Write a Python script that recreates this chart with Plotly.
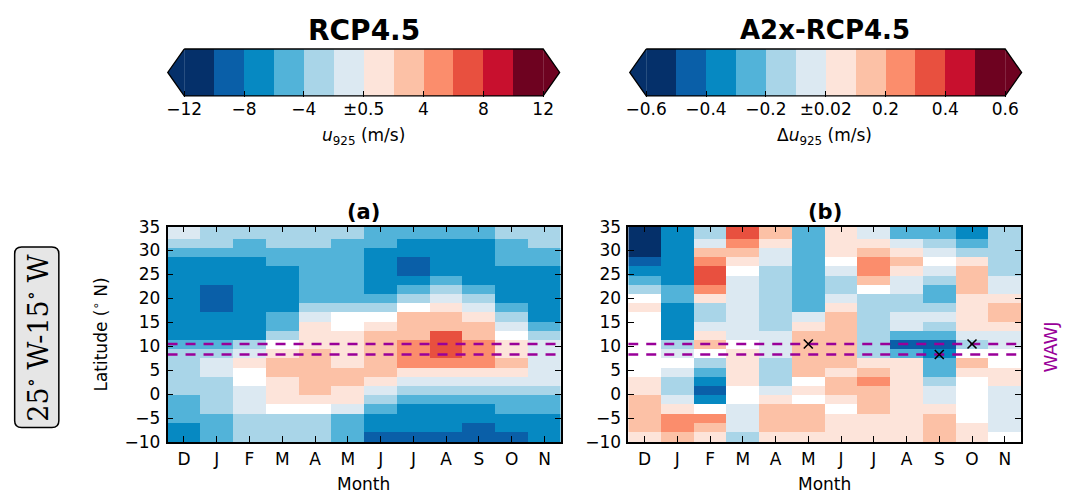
import plotly.graph_objects as go

# ---------------- data ----------------
months = ["D", "J", "F", "M", "A", "M", "J", "J", "A", "S", "O", "N"]

# latitude of grid-cell centres, north -> south (deg N)
lats = [35.31, 33.39, 31.47, 29.55, 27.64, 25.72, 23.80, 21.88, 19.96, 18.05,
        16.13, 14.21, 12.29, 10.38, 8.46, 6.54, 4.62, 2.70, 0.78, -1.13,
        -3.05, -4.97, -6.88, -8.80, -10.72]

# (a) RCP4.5 u925 (m/s); rows follow lats, columns follow months
u925_rcp45 = [
    [-1.2, -3, -3, -3, -3, -3, -5, -5, -5, -5, -3, -3],
    [-1.2, -3, -3, -3, -3, -3, -5, -5, -5, -5, -3, -3],
    [-3, -3, -5, -3, -3, -5, -5, -7, -7, -7, -5, -3],
    [-5, -5, -5, -5, -5, -5, -7, -7, -7, -7, -5, -5],
    [-7, -7, -7, -5, -5, -5, -7, -9, -7, -7, -5, -5],
    [-7, -7, -7, -7, -5, -5, -7, -9, -7, -7, -7, -7],
    [-7, -7, -7, -7, -5, -5, -7, -7, -5, -7, -7, -7],
    [-7, -9, -7, -7, -5, -5, -7, -5, -3, -5, -7, -7],
    [-7, -9, -7, -7, -5, -5, -5, -3, -1.2, -3, -7, -7],
    [-7, -9, -7, -7, -3, -3, -3, 0, 1.2, -1.2, -5, -7],
    [-7, -7, -7, -5, -1.2, 0, 0, 3, 3, 1.2, -3, -7],
    [-7, -7, -7, -5, 1.2, 0, 1.2, 3, 3, 3, -1.2, -5],
    [-7, -7, -7, -3, 1.2, 1.2, 3, 3, 7, 3, 0, -3],
    [-5, -5, -3, 0, 1.2, 1.2, 3, 5, 7, 5, 1.2, -1.2],
    [-3, -3, -1.2, 1.2, 3, 1.2, 3, 5, 7, 5, 1.2, -1.2],
    [-3, -1.2, 1.2, 3, 3, 1.2, 3, 5, 5, 5, 3, -1.2],
    [-3, -1.2, 0, 3, 3, 3, 3, 1.2, 1.2, 1.2, 1.2, -1.2],
    [-3, -3, 0, 1.2, 3, 3, 1.2, -1.2, -1.2, -1.2, -1.2, -1.2],
    [-3, -3, -1.2, 1.2, 3, 1.2, -1.2, -3, -3, -3, -3, -3],
    [-5, -3, -1.2, 1.2, 1.2, 1.2, -3, -5, -5, -5, -5, -5],
    [-5, -3, -1.2, 0, 0, -1.2, -5, -7, -7, -7, -5, -5],
    [-5, -5, -3, -3, -3, -5, -7, -7, -7, -7, -7, -7],
    [-7, -5, -3, -3, -3, -5, -7, -7, -7, -9, -7, -7],
    [-7, -5, -3, -3, -3, -5, -9, -9, -9, -9, -9, -7],
    [-7, -5, -3, -3, -3, -5, -9, -9, -9, -9, -9, -7],
]

# (b) A2x - RCP4.5 difference in u925 (m/s)
du925_a2x = [
    [-0.55, -0.35, -0.15, 0.35, 0.15, -0.25, 0.06, -0.06, -0.25, -0.25, -0.35, -0.15],
    [-0.55, -0.35, -0.15, 0.35, 0.15, -0.25, 0.06, -0.06, -0.25, -0.25, -0.35, -0.15],
    [-0.55, -0.35, -0.06, 0.25, 0.06, -0.25, 0.06, 0.06, -0.06, -0.15, -0.25, -0.15],
    [-0.55, -0.35, 0.15, 0.15, -0.06, -0.25, 0.06, 0.15, 0.06, -0.06, -0.15, -0.15],
    [-0.45, -0.35, 0.25, 0.06, -0.06, -0.25, 0, 0.25, 0.15, 0, 0.06, -0.15],
    [-0.35, -0.35, 0.35, 0, -0.15, -0.25, -0.06, 0.25, 0.06, -0.06, 0.15, -0.15],
    [-0.25, -0.35, 0.35, -0.06, -0.15, -0.25, -0.15, 0.15, -0.06, -0.15, 0.15, -0.06],
    [-0.15, -0.25, 0.25, -0.06, -0.15, -0.25, -0.15, 0, -0.06, -0.25, 0.15, -0.06],
    [0, -0.25, 0.06, -0.06, -0.15, -0.25, -0.06, -0.15, -0.15, -0.25, 0.06, 0.06],
    [0.06, -0.35, -0.15, -0.06, -0.15, -0.25, 0.06, -0.15, -0.15, -0.15, 0.06, 0.15],
    [0, -0.35, -0.15, -0.06, -0.15, -0.06, 0.15, -0.15, -0.06, -0.06, 0.06, 0.15],
    [0, -0.35, -0.06, -0.06, -0.15, 0.06, 0.15, -0.15, -0.06, -0.15, 0.06, 0.06],
    [0, -0.35, 0.06, -0.06, -0.06, 0.15, 0.15, -0.15, -0.25, -0.25, -0.06, -0.06],
    [0, -0.15, 0.15, 0, -0.06, 0.15, 0.15, -0.15, -0.45, -0.45, -0.15, -0.06],
    [0, -0.06, 0, 0.06, -0.06, 0.15, 0.15, -0.15, -0.25, -0.35, 0, 0],
    [0, 0, -0.15, 0.06, -0.15, 0.15, 0.15, 0.06, 0.06, -0.25, 0.15, 0],
    [0, -0.06, -0.25, 0.06, -0.15, 0.15, 0.06, 0.15, 0.06, -0.25, 0.06, 0.06],
    [0.06, -0.15, -0.35, 0.06, -0.15, 0, 0.15, 0.25, 0.06, -0.15, 0, 0.06],
    [0.06, -0.15, -0.45, 0, -0.06, 0.06, 0.15, 0.15, 0.06, -0.06, 0, -0.06],
    [0.15, -0.06, -0.35, 0, 0.06, 0, 0.06, 0.15, 0.06, -0.06, 0, -0.06],
    [0.15, 0.06, 0, -0.06, 0.15, 0.15, 0, 0.15, 0.06, 0.06, 0, -0.06],
    [0.15, 0.25, 0.25, -0.06, 0.15, 0.15, 0.06, 0.06, 0.06, 0.15, 0, -0.06],
    [0.15, 0.25, 0.15, -0.06, 0.15, 0.15, 0.06, 0.06, 0.06, 0.15, 0.06, -0.06],
    [0.06, 0.15, 0.06, -0.15, 0.06, 0.06, 0.06, 0.06, 0.06, 0.15, 0.06, 0],
    [0.06, 0.15, 0.06, -0.15, 0.06, 0.06, 0.06, 0.06, 0.06, 0.15, 0.06, 0],
]

# contour levels (white band between the two central levels)
levels_a = [-12, -10, -8, -6, -4, -2, -0.5, 0.5, 2, 4, 6, 8, 10, 12]
levels_b = [-0.6, -0.5, -0.4, -0.3, -0.2, -0.1, -0.02, 0.02, 0.1, 0.2, 0.3, 0.4, 0.5, 0.6]
cbar_ticktext_a = ["\u221212", "\u22128", "\u22124", "\u00b10.5", "4", "8", "12"]
cbar_ticktext_b = ["\u22120.6", "\u22120.4", "\u22120.2", "\u00b10.02", "0.2", "0.4", "0.6"]
# representative value of each coloured band of the colour bars
cbar_vals_a = [-11, -9, -7, -5, -3, -1.2, 1.2, 3, 5, 7, 9, 11]
cbar_vals_b = [-0.55, -0.45, -0.35, -0.25, -0.15, -0.06, 0.06, 0.15, 0.25, 0.35, 0.45, 0.55]

# WAWJ band latitudes and significant points in (b)
wawj_lats = [10.5, 8.3]
sig_month_idx = [5, 9, 10]
sig_lats = [10.5, 8.3, 10.5]

lat_ticks = [-10, -5, 0, 5, 10, 15, 20, 25, 30, 35]

# ---------------- style ----------------
band_colors = ["#05306a", "#0a5fa8", "#0689c2", "#52b3d9", "#a9d5e8", "#dce9f2",
               "#ffffff",
               "#fde4da", "#fcc1a6", "#fb8d6c", "#e8503f", "#c8102e", "#6e0220"]
cbar_colors = band_colors[:6] + band_colors[7:]
FONT = "DejaVu Sans"
W, H = 1065, 498
H_EFF = 490   # measured vertical extent of the paper coordinates in the browser
PURPLE = "#990099"


def fx(p):
    return p / W


def fy(p):
    return 1 - p / H_EFF


def step_scale(bounds, colors):
    lo, hi = bounds[0], bounds[-1]
    sc = []
    for i, c in enumerate(colors):
        sc.append([(bounds[i] - lo) / (hi - lo), c])
        sc.append([(bounds[i + 1] - lo) / (hi - lo), c])
    sc[-1][0] = 1.0
    return sc


scale_a = step_scale(levels_a, band_colors)
scale_b = step_scale(levels_b, band_colors)

fig = go.Figure()

x_idx = list(range(len(months)))

# main heatmaps
for data, scale, levels, xa, ya in [(u925_rcp45, scale_a, levels_a, "x", "y"),
                                    (du925_a2x, scale_b, levels_b, "x2", "y2")]:
    fig.add_trace(go.Heatmap(
        x=x_idx, y=lats[::-1], z=data[::-1], colorscale=scale,
        zmin=levels[0], zmax=levels[-1], showscale=False, hoverinfo="skip",
        xaxis=xa, yaxis=ya))
    for la in wawj_lats:
        fig.add_trace(go.Scatter(
            x=[x_idx[0] - 0.5, x_idx[-1] + 0.5], y=[la, la], mode="lines",
            line=dict(color=PURPLE, width=2.6, dash="10px,8px"),
            hoverinfo="skip", showlegend=False, xaxis=xa, yaxis=ya))

fig.add_trace(go.Scatter(
    x=sig_month_idx, y=sig_lats, mode="markers",
    marker=dict(symbol="x-thin", size=9, line=dict(width=1.6, color="black")),
    hoverinfo="skip", showlegend=False, xaxis="x2", yaxis="y2"))

# colour bars (heatmap strips with triangular extensions)
nb = len(cbar_vals_a)
tip = 0.55
for vals, scale, levels, xa, ya in [(cbar_vals_a, scale_a, levels_a, "x3", "y3"),
                                    (cbar_vals_b, scale_b, levels_b, "x4", "y4")]:
    fig.add_trace(go.Heatmap(
        x=[i + 0.5 for i in range(nb)], y=[0.5], z=[vals], colorscale=scale,
        zmin=levels[0], zmax=levels[-1], showscale=False, hoverinfo="skip",
        xaxis=xa, yaxis=ya))
    fig.add_trace(go.Scatter(
        x=[0, -tip, 0, 0], y=[0, 0.5, 1, 0], mode="lines", fill="toself",
        fillcolor=cbar_colors[0], line=dict(width=0), hoverinfo="skip",
        showlegend=False, xaxis=xa, yaxis=ya))
    fig.add_trace(go.Scatter(
        x=[nb, nb + tip, nb, nb], y=[0, 0.5, 1, 0], mode="lines", fill="toself",
        fillcolor=cbar_colors[-1], line=dict(width=0), hoverinfo="skip",
        showlegend=False, xaxis=xa, yaxis=ya))
    fig.add_trace(go.Scatter(
        x=[0, nb, nb + tip, nb, 0, -tip, 0], y=[1, 1, 0.5, 0, 0, 0.5, 1],
        mode="lines", line=dict(color="black", width=1.3), hoverinfo="skip",
        showlegend=False, xaxis=xa, yaxis=ya))

# ---------------- axes ----------------
tickfont = dict(family=FONT, size=17, color="black")
lat_text = [str(t).replace("-", "\u2212") for t in lat_ticks]

main_x = dict(range=[-0.5, len(months) - 0.5], tickmode="array", tickvals=x_idx,
              ticktext=months, ticks="inside", ticklen=6, tickwidth=1.2,
              tickcolor="black", showline=True, linecolor="black", linewidth=1.5,
              mirror="ticks", showgrid=False, zeroline=False, tickfont=tickfont,
              ticklabelstandoff=1)
main_y = dict(range=[-10, 35], tickmode="array", tickvals=lat_ticks,
              ticktext=lat_text, ticks="inside", ticklen=6, tickwidth=1.2,
              tickcolor="black", showline=True, linecolor="black", linewidth=1.5,
              mirror="ticks", showgrid=False, zeroline=False, tickfont=tickfont,
              ticklabelstandoff=2)

ydom = [fy(443), fy(222)]
pad = 0.05
cb_ypad = 0.03
cb_y_range = [-cb_ypad, 1 + cb_ypad]
cb_ydom = [fy(88 + cb_ypad * 48), fy(40 - cb_ypad * 48)]


def cb_x(left_px, right_px):
    unit = (right_px - left_px) / nb
    return [fx(left_px - (tip + pad) * unit), fx(right_px + (tip + pad) * unit)]


cb_axis_x = dict(range=[-tip - pad, nb + tip + pad], tickmode="array",
                 tickvals=[0, 2, 4, 6, 8, 10, 12], ticks="inside", ticklen=6,
                 tickwidth=1.2, tickcolor="black", showline=False, showgrid=False,
                 zeroline=False, tickfont=tickfont, ticklabelstandoff=0)
cb_axis_y = dict(range=cb_y_range, visible=False, showgrid=False, zeroline=False)

fig.update_layout(
    width=W, height=H, autosize=False, margin=dict(l=0, r=0, t=0, b=0, pad=0),
    paper_bgcolor="white", plot_bgcolor="white", showlegend=False,
    font=dict(family=FONT, size=17, color="black"),
    xaxis=dict(main_x, domain=[fx(165), fx(559.5)], anchor="y"),
    yaxis=dict(main_y, domain=ydom, anchor="x"),
    xaxis2=dict(main_x, domain=[fx(627), fx(1021)], anchor="y2"),
    yaxis2=dict(main_y, domain=ydom, anchor="x2"),
    xaxis3=dict(cb_axis_x, domain=cb_x(181.7, 541.7), anchor="y3",
                ticktext=cbar_ticktext_a),
    yaxis3=dict(cb_axis_y, domain=cb_ydom, anchor="x3"),
    xaxis4=dict(cb_axis_x, domain=cb_x(645, 1005), anchor="y4",
                ticktext=cbar_ticktext_b),
    yaxis4=dict(cb_axis_y, domain=cb_ydom, anchor="x4"),
)

# ---------------- text ----------------
def ann(text, xp, yp, size=17, bold=False, angle=0, color="black", family=FONT):
    fig.add_annotation(
        text=f"<b>{text}</b>" if bold else text, x=fx(xp), y=fy(yp),
        xref="paper", yref="paper", showarrow=False, textangle=angle,
        xanchor="center", yanchor="middle",
        font=dict(family=family, size=size, color=color))


ann("RCP4.5", 362, 21, size=28, bold=True)
ann("A2x-RCP4.5", 824, 21, size=26, bold=True)
ann("<i>u</i><sub>925</sub> (m/s)", 362, 130)
ann("\u0394<i>u</i><sub>925</sub> (m/s)", 824, 130)
ann("(a)", 362, 207, size=21, bold=True)
ann("(b)", 824, 207, size=21, bold=True)
ann("Month", 362, 486)
ann("Month", 824, 486)
ann("Latitude (<sup>\u2218</sup> N)", 97, 333, angle=-90)
ann("WAWJ", 1050, 346, size=18, angle=-90, color=PURPLE)

# rounded box with longitude label
x0, x1, y0, y1 = fx(11.7), fx(56), fy(428), fy(243)
rx, ry = fx(7), 7 / H_EFF
path = (f"M {x0 + rx},{y0} L {x1 - rx},{y0} Q {x1},{y0} {x1},{y0 + ry} "
        f"L {x1},{y1 - ry} Q {x1},{y1} {x1 - rx},{y1} L {x0 + rx},{y1} "
        f"Q {x0},{y1} {x0},{y1 - ry} L {x0},{y0 + ry} Q {x0},{y0} {x0 + rx},{y0} Z")
fig.add_shape(type="path", path=path, xref="paper", yref="paper",
              fillcolor="#e6e6e6", line=dict(color="black", width=1.5), layer="above")
ann("25<sup>\u2218</sup> W-15<sup>\u2218</sup> W", 34, 336, size=27, angle=-90,
    family="DejaVu Serif")

fig.write_html("out.html", config={"displayModeBar": False, "responsive": False},
               post_script="document.body.style.margin='0px';"
                           "document.body.style.overflow='hidden';")
